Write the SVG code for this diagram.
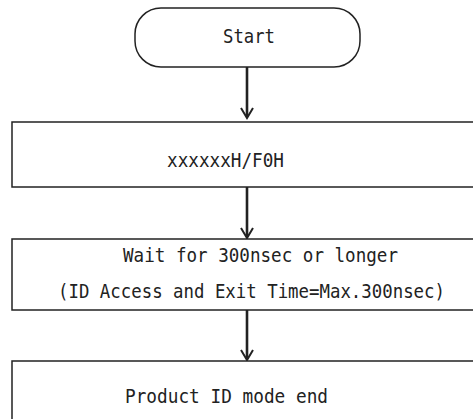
<svg xmlns="http://www.w3.org/2000/svg" width="473" height="419" viewBox="0 0 473 419">
<defs>
<style>
.box{fill:#fff;stroke:#222;stroke-width:1.5}
.t{font-family:"DejaVu Sans Mono","Liberation Mono",monospace;font-size:19.5px;fill:#222}
.c{stroke:#222;stroke-width:2.6;fill:none}
.h{stroke:#222;stroke-width:2;fill:none}
</style>
</defs>
<rect width="473" height="419" fill="#fff"/>
<g id="connectors">
<line class="c" x1="247" y1="67" x2="247" y2="117"/>
<polyline class="h" points="241,108 247,118 253,108"/>
<line class="c" x1="247" y1="187" x2="247" y2="237"/>
<polyline class="h" points="241,228 247,238 253,228"/>
<line class="c" x1="247" y1="310" x2="247" y2="359"/>
<polyline class="h" points="241,350 247,360 253,350"/>
</g>
<g id="start">
<rect class="box" x="135" y="8" width="225" height="59" rx="26" ry="26"/>
<text class="t" x="223" y="43" textLength="52" lengthAdjust="spacingAndGlyphs">Start</text>
</g>
<g id="step1">
<rect class="box" x="12" y="122" width="470" height="65"/>
<text class="t" x="167" y="167" textLength="117" lengthAdjust="spacingAndGlyphs">xxxxxxH/F0H</text>
</g>
<g id="step2">
<rect class="box" x="12" y="239" width="470" height="71"/>
<text class="t" x="123" y="262" textLength="275" lengthAdjust="spacingAndGlyphs">Wait for 300nsec or longer</text>
<text class="t" x="58" y="298" textLength="387" lengthAdjust="spacingAndGlyphs">(ID Access and Exit Time=Max.300nsec)</text>
</g>
<g id="end">
<rect class="box" x="12" y="361" width="470" height="70"/>
<text class="t" x="125" y="403" textLength="203" lengthAdjust="spacingAndGlyphs">Product ID mode end</text>
</g>
</svg>
